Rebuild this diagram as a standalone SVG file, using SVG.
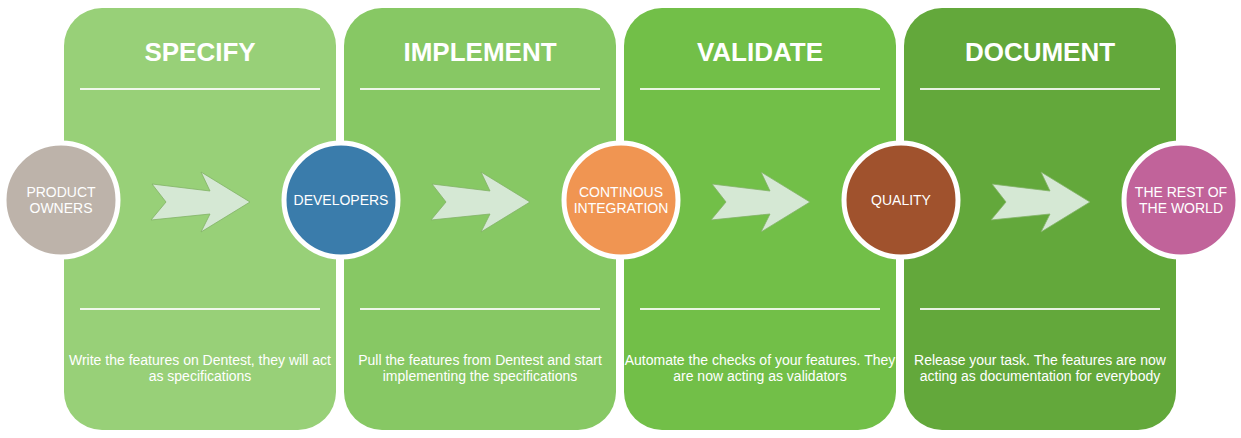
<svg xmlns="http://www.w3.org/2000/svg" width="1241" height="438" viewBox="0 0 1241 438">
  <style>
    .title { font-family: "Liberation Sans", Arial, sans-serif; font-size: 26px; font-weight: bold; fill: #ffffff; text-anchor: middle; }
    .body { font-family: "Liberation Sans", Arial, sans-serif; font-size: 14px; fill: #ffffff; text-anchor: middle; }
    .label { font-family: "Liberation Sans", Arial, sans-serif; font-size: 14px; fill: #ffffff; text-anchor: middle; }
    .rule { stroke: #ffffff; stroke-width: 2; stroke-opacity: 0.85; }
    .node { stroke: #ffffff; stroke-width: 5; }
    .flow { fill: #d5e8d4; stroke: #82b366; stroke-width: 0.8; }
  </style>
  <defs>
    <!-- skewed block arrow, drawn at origin and placed with translate -->
    <path id="blockArrow" d="M152,184 L210,191 L201,172 L250,202 L201,232 L210,214 L151,220 L166,202 Z"/>
  </defs>
  <rect width="1241" height="438" fill="#ffffff"/>

  <!-- stage panels -->
  <g id="stage-specify">
    <rect x="64" y="8" width="272" height="422" rx="38" fill="#98d078"/>
    <text class="title" x="200" y="61">SPECIFY</text>
    <line class="rule" x1="80" y1="89" x2="320" y2="89"/>
    <line class="rule" x1="80" y1="309" x2="320" y2="309"/>
    <text class="body" x="200" y="365">Write the features on Dentest, they will act</text>
    <text class="body" x="200" y="381">as specifications</text>
  </g>
  <g id="stage-implement">
    <rect x="344" y="8" width="272" height="422" rx="38" fill="#87c864"/>
    <text class="title" x="480" y="61">IMPLEMENT</text>
    <line class="rule" x1="360" y1="89" x2="600" y2="89"/>
    <line class="rule" x1="360" y1="309" x2="600" y2="309"/>
    <text class="body" x="480" y="365">Pull the features from Dentest and start</text>
    <text class="body" x="480" y="381">implementing the specifications</text>
  </g>
  <g id="stage-validate">
    <rect x="624" y="8" width="272" height="422" rx="38" fill="#72bf48"/>
    <text class="title" x="760" y="61">VALIDATE</text>
    <line class="rule" x1="640" y1="89" x2="880" y2="89"/>
    <line class="rule" x1="640" y1="309" x2="880" y2="309"/>
    <text class="body" x="760" y="365">Automate the checks of your features. They</text>
    <text class="body" x="760" y="381">are now acting as validators</text>
  </g>
  <g id="stage-document">
    <rect x="904" y="8" width="272" height="422" rx="38" fill="#63a83b"/>
    <text class="title" x="1040" y="61">DOCUMENT</text>
    <line class="rule" x1="920" y1="89" x2="1160" y2="89"/>
    <line class="rule" x1="920" y1="309" x2="1160" y2="309"/>
    <text class="body" x="1040" y="365">Release your task. The features are now</text>
    <text class="body" x="1040" y="381">acting as documentation for everybody</text>
  </g>

  <!-- connectors between roles -->
  <g id="connectors">
    <use href="#blockArrow" class="flow"/>
    <use href="#blockArrow" class="flow" transform="translate(280,0)"/>
    <use href="#blockArrow" class="flow" transform="translate(560,0)"/>
    <use href="#blockArrow" class="flow" transform="translate(840,0)"/>
  </g>

  <!-- role nodes -->
  <g id="node-product-owners">
    <circle class="node" cx="61" cy="200" r="57" fill="#bdb3aa"/>
    <text class="label" x="61" y="197">PRODUCT</text>
    <text class="label" x="61" y="213">OWNERS</text>
  </g>
  <g id="node-developers">
    <circle class="node" cx="341" cy="200" r="57" fill="#3a7cab"/>
    <text class="label" x="341" y="205">DEVELOPERS</text>
  </g>
  <g id="node-ci">
    <circle class="node" cx="621" cy="200" r="57" fill="#f09552"/>
    <text class="label" x="621" y="197">CONTINOUS</text>
    <text class="label" x="621" y="213">INTEGRATION</text>
  </g>
  <g id="node-quality">
    <circle class="node" cx="901" cy="200" r="57" fill="#a0522d"/>
    <text class="label" x="901" y="205">QUALITY</text>
  </g>
  <g id="node-world">
    <circle class="node" cx="1181" cy="200" r="57" fill="#c1639a"/>
    <text class="label" x="1181" y="197">THE REST OF</text>
    <text class="label" x="1181" y="213">THE WORLD</text>
  </g>
</svg>
